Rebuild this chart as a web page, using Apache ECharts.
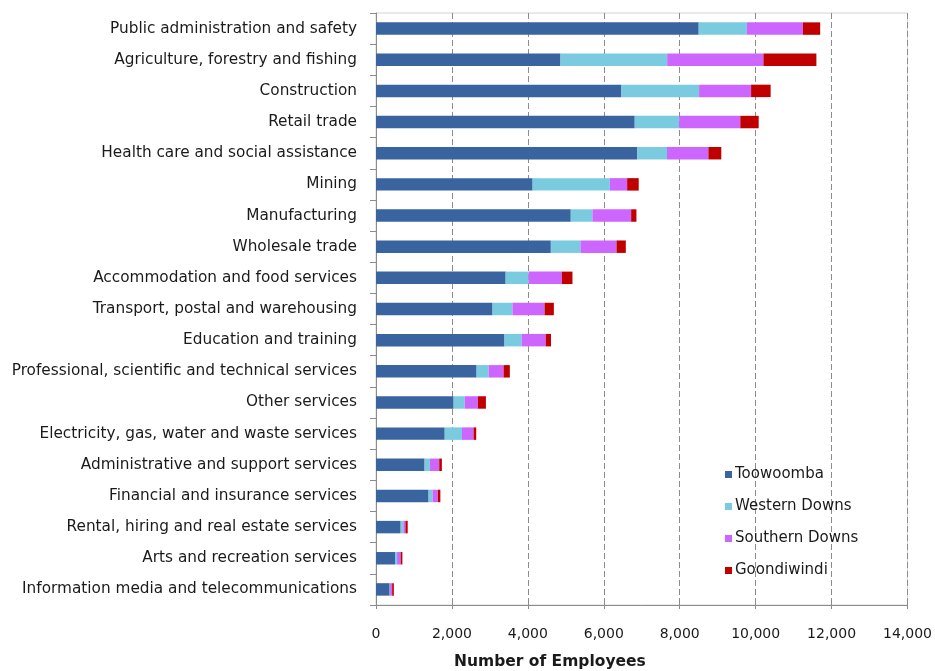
<!DOCTYPE html>
<html>
<head>
<meta charset="utf-8">
<style>
  html, body { margin: 0; padding: 0; background: #fff; }
  #chart { width: 935px; height: 671px; }
</style>
<script src="https://cdn.jsdelivr.net/npm/echarts@6/dist/echarts.min.js"></script>
</head>
<body>
<div id="chart"></div>
<script>
// Industries, listed top to bottom
const industries = [
  'Public administration and safety',
  'Agriculture, forestry and fishing',
  'Construction',
  'Retail trade',
  'Health care and social assistance',
  'Mining',
  'Manufacturing',
  'Wholesale trade',
  'Accommodation and food services',
  'Transport, postal and warehousing',
  'Education and training',
  'Professional, scientific and technical services',
  'Other services',
  'Electricity, gas, water and waste services',
  'Administrative and support services',
  'Financial and insurance services',
  'Rental, hiring and real estate services',
  'Arts and recreation services',
  'Information media and telecommunications'
];

// Employees by region, same order as industries
const toowoomba     = [8500, 4860, 6465, 6815, 6885, 4125, 5130, 4605, 3415, 3070, 3385, 2650, 2045, 1810, 1280, 1385, 650, 500, 360];
const westernDowns  = [1270, 2810, 2045, 1170,  780, 2035,  570,  780,  605,  525,  455,  315,  290,  455,  140,  105,  70,  55,  10];
const southernDowns = [1475, 2535, 1370, 1610, 1090,  455, 1020,  950,  875,  845,  630,  395,  350,  305,  245,  140,  55,  95,  55];
const goondiwindi   = [ 455, 1395,  515,  485,  340,  305,  140,  245,  280,  245,  140,  165,  210,   70,   70,   65,  60,  45,  45];

const regionNames = ['Toowoomba', 'Western Downs', 'Southern Downs', 'Goondiwindi'];
const regionColors = ['#3A64A0', '#7ACBE0', '#CC66FF', '#C00000'];
const regionValues = [toowoomba, westernDowns, southernDowns, goondiwindi];

const FONT = 'DejaVu Sans';
const TEXT = '#1a1a1a';

const chart = echarts.init(document.getElementById('chart'), null, { renderer: 'canvas' });

chart.setOption({
  animation: false,
  backgroundColor: '#ffffff',
  textStyle: { fontFamily: FONT, color: TEXT },
  title: {
    text: 'Number of Employees',
    left: 454,
    top: 654,
    padding: 0,
    textStyle: { fontFamily: FONT, fontSize: 15.5, fontWeight: 'bold', color: TEXT }
  },
  legend: {
    orient: 'vertical',
    left: 720,
    top: 461,
    itemWidth: 7,
    itemHeight: 7,
    itemGap: 15,
    icon: 'rect',
    data: regionNames,
    textStyle: { fontFamily: FONT, fontSize: 15, color: TEXT, padding: [0, 0, 0, -2], lineHeight: 17 }
  },
  grid: {
    left: 376,
    right: 27,
    top: 13,
    bottom: 66,
    show: true,
    borderColor: '#d4d4d4',
    borderWidth: 1
  },
  xAxis: [
    {
      type: 'value',
      min: 0,
      max: 14000,
      interval: 2000,
      axisLine: { show: true, lineStyle: { color: '#8c8c8c', width: 1 } },
      axisTick: { show: true, inside: false, length: 4, lineStyle: { color: '#8c8c8c' } },
      axisLabel: {
        margin: 22,
        fontFamily: FONT,
        fontSize: 14,
        color: TEXT,
        formatter: v => v.toLocaleString('en-US')
      },
      splitLine: { show: true, lineStyle: { color: '#8c8c8c', type: [6, 3], width: 1 } }
    },
    {
      // inner half of the crossing tick marks
      type: 'value',
      position: 'bottom',
      min: 0,
      max: 14000,
      interval: 2000,
      axisLine: { show: false },
      axisTick: { show: true, inside: true, length: 4, lineStyle: { color: '#8c8c8c' } },
      axisLabel: { show: false },
      splitLine: { show: false }
    }
  ],
  yAxis: {
    type: 'category',
    inverse: true,
    data: industries,
    axisLine: { show: true, lineStyle: { color: '#8c8c8c', width: 1 } },
    axisTick: { show: true, alignWithLabel: false, length: 6, lineStyle: { color: '#8c8c8c' } },
    axisLabel: { margin: 19, fontFamily: FONT, fontSize: 15.3, color: TEXT, padding: [6, 0, 0, 0] },
    splitLine: { show: false }
  },
  series: regionNames.map((name, i) => ({
    name: name,
    type: 'bar',
    stack: 'employees',
    xAxisIndex: 0,
    barWidth: '40%',
    itemStyle: { color: regionColors[i] },
    data: regionValues[i]
  }))
});
</script>
</body>
</html>
